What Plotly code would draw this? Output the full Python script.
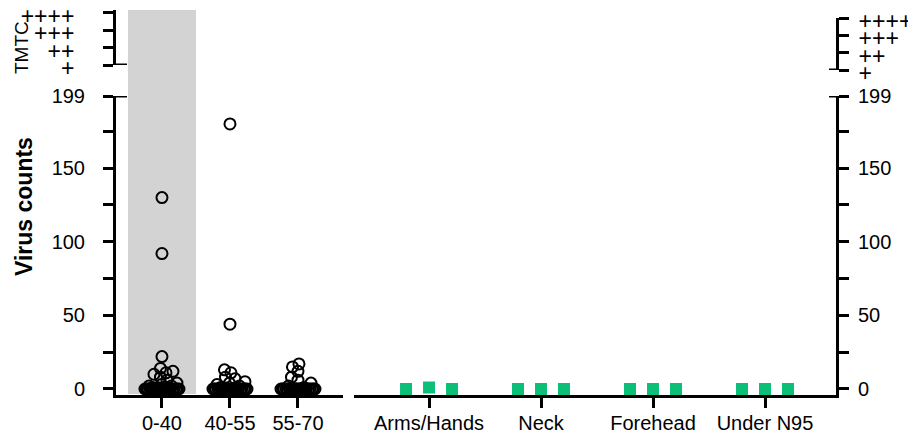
import numpy as np
import plotly.graph_objects as go

# ---------------- data ----------------
age_groups = ["0-40", "40-55", "55-70"]
counts_0_40 = [130, 92, 22, 14, 12, 11, 10, 8, 6, 4, 3, 2, 2, 1, 1] + [0] * 24
counts_40_55 = [180, 44, 13, 11, 8, 7, 5, 4, 3, 2, 1, 1] + [0] * 24
counts_55_70 = [17, 15, 12, 8, 6, 4, 2, 1] + [0] * 24

sites = ["Arms/Hands", "Neck", "Forehead", "Under N95"]
site_counts = [[0, 1, 0], [0, 0, 0], [0, 0, 0], [0, 0, 0]]

y_ticks = [0, 25, 50, 75, 100, 125, 150, 175, 199]
y_ticktext = ["0", "", "50", "", "100", "", "150", "", "199"]
grade_labels = ["+", "++", "+++", "++++"]

# ---------------- geometry helpers ----------------
# page body has an 8px margin, so the figure starts at (8, 8) in the window
OFF = 8
W, H = 916 - OFF, 433 - OFF
FONT = "Liberation Sans, Arial, sans-serif"


def fx(p):
    return (p - OFF) / W


def fy(p):
    return 1 - (p - OFF) / H


Y_RANGE = [-4.08, 199]
PX_PER_Y = (395 - 96) / (Y_RANGE[1] - Y_RANGE[0])
PX_PER_CAT_LEFT = 68.0
PX_PER_CAT_RIGHT = 112.0


def swarm(vals, d=7.0, cap=17.0):
    """Simple beeswarm layout: returns horizontal pixel offsets."""
    vals = np.asarray(vals, dtype=float)
    order = np.argsort(vals, kind="stable")
    cands = np.arange(-cap, cap + 0.001, 0.5)
    cands = cands[np.argsort(np.abs(cands), kind="stable")]
    placed = []
    offs = np.zeros(len(vals))
    for i in order:
        yp = vals[i] * PX_PER_Y
        best, best_d = 0.0, -1.0
        chosen = None
        for c in cands:
            if placed:
                md = min(np.hypot(c - px, yp - py) for px, py in placed)
            else:
                md = 1e9
            if md >= d:
                chosen = c
                break
            if md > best_d + 1e-9:
                best_d, best = md, c
        if chosen is None:
            chosen = best
        offs[i] = chosen
        placed.append((chosen, yp))
    return offs


fig = go.Figure()

# left panel: open circles
for gi, vals in enumerate([counts_0_40, counts_40_55, counts_55_70]):
    offs = swarm(vals)
    fig.add_trace(go.Scatter(
        x=gi + offs / PX_PER_CAT_LEFT, y=vals, mode="markers",
        marker=dict(symbol="circle-open", size=11, color="black",
                    line=dict(width=2, color="black")),
        xaxis="x", yaxis="y", showlegend=False, hoverinfo="skip",
        cliponaxis=False))

# right panel: green squares
for si, vals in enumerate(site_counts):
    n = len(vals)
    offs = (np.arange(n) - (n - 1) / 2) * 23 / PX_PER_CAT_RIGHT
    fig.add_trace(go.Scatter(
        x=si + offs, y=vals, mode="markers",
        marker=dict(symbol="square", size=12, color="#0BBF78",
                    line=dict(width=0)),
        xaxis="x2", yaxis="y3", showlegend=False, hoverinfo="skip",
        cliponaxis=False))

# empty traces so the grade axes are drawn
fig.add_trace(go.Scatter(x=[None], y=[None], xaxis="x", yaxis="y2",
                         showlegend=False))
fig.add_trace(go.Scatter(x=[None], y=[None], xaxis="x2", yaxis="y4",
                         showlegend=False))

axis_common = dict(showline=True, linewidth=3, linecolor="black",
                   ticks="outside", ticklen=10, tickwidth=3, tickcolor="black",
                   showgrid=False, zeroline=False, fixedrange=True,
                   automargin=False, ticklabeloverflow="allow")

fig.update_layout(
    template="none",
    width=W, height=H,
    margin=dict(l=0, r=0, t=0, b=0, autoexpand=False),
    paper_bgcolor="white", plot_bgcolor="rgba(0,0,0,0)",
    font=dict(family=FONT, color="black"),
    xaxis=dict(domain=[fx(116), fx(343)], range=[-0.676, 2.662],
               anchor="y", tickvals=[0, 1, 2], ticktext=age_groups,
               tickfont=dict(size=20), ticklabelstandoff=-2, **axis_common),
    yaxis=dict(domain=[fy(395), fy(96)], range=Y_RANGE, anchor="x",
               tickvals=y_ticks, ticktext=y_ticktext,
               tickfont=dict(size=20), ticklabelstandoff=14, **axis_common),
    yaxis2=dict(domain=[fy(65), fy(10)], range=[0, 3.17], anchor="x",
                tickvals=[0, 1, 2, 3], ticktext=grade_labels,
                tickfont=dict(size=23), ticklabelstandoff=24,
                ticklabelshift=3, **axis_common),
    xaxis2=dict(domain=[fx(354), fx(836)], range=[-0.67, 3.634],
                anchor="y3", tickvals=[0, 1, 2, 3], ticktext=sites,
                tickfont=dict(size=20), ticklabelstandoff=-2, **axis_common),
    yaxis3=dict(domain=[fy(395), fy(96)], range=Y_RANGE, anchor="x2",
                side="right", tickvals=y_ticks, ticktext=y_ticktext,
                tickfont=dict(size=20), ticklabelstandoff=5, **axis_common),
    yaxis4=dict(domain=[fy(70), fy(18)], range=[0, 3], anchor="x2",
                side="right", tickvals=[0, 1, 2, 3], ticktext=grade_labels,
                tickfont=dict(size=23), ticklabelstandoff=5,
                ticklabelshift=3, **axis_common),
)

# shaded 0-40 band
fig.add_shape(type="rect", xref="x", yref="paper", x0=-0.5, x1=0.5,
              y0=fy(394), y1=fy(10), fillcolor="#D3D3D3",
              line=dict(width=0), layer="below")

# short baseline stubs of the grade panels and cross ticks at 199
fig.add_shape(type="line", xref="paper", yref="y2", x0=fx(116), x1=fx(127),
              y0=0, y1=0, line=dict(color="black", width=3))
fig.add_shape(type="line", xref="paper", yref="y4", x0=fx(829), x1=fx(836),
              y0=0, y1=0, line=dict(color="black", width=3))
fig.add_shape(type="line", xref="paper", yref="y", x0=fx(116), x1=fx(127),
              y0=199, y1=199, line=dict(color="black", width=3))
fig.add_shape(type="line", xref="paper", yref="y3", x0=fx(829), x1=fx(836),
              y0=199, y1=199, line=dict(color="black", width=3))

# axis titles
fig.add_annotation(text="<b>Virus counts</b>", xref="paper", yref="paper",
                   x=fx(24), y=fy(207), xanchor="center", yanchor="middle",
                   textangle=-90, showarrow=False,
                   font=dict(size=23, family=FONT))
fig.add_annotation(text="TMTC", xref="paper", yref="paper",
                   x=fx(21), y=fy(48), xanchor="center", yanchor="middle",
                   textangle=-90, showarrow=False,
                   font=dict(size=19, family=FONT))

fig.write_html("out.html")
